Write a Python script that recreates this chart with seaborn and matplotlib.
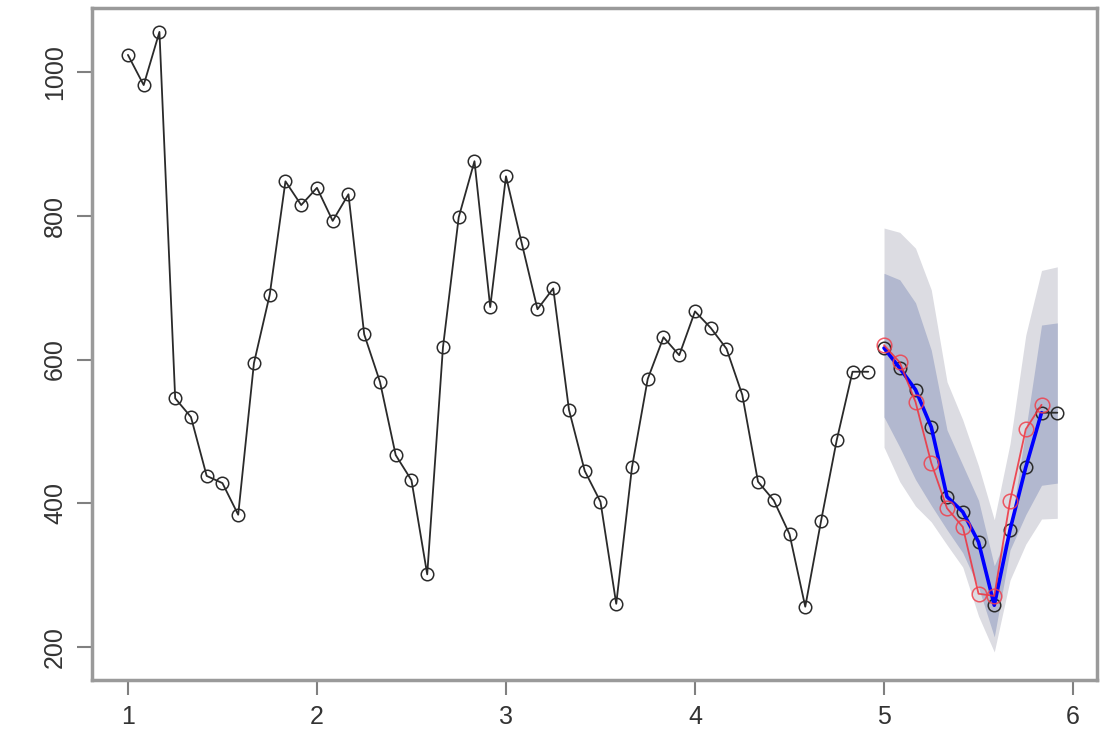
import numpy as np
import pandas as pd
import matplotlib.pyplot as plt
import seaborn as sns

# monthly series, starts at time 1, frequency 12
start = 1
freq = 12

hist_values = [1024, 982, 1056, 546, 520, 438, 428, 384, 595, 690, 848, 815,
               839, 793, 830, 635, 569, 467, 432, 301, 617, 798, 876, 673,
               855, 762, 670, 699, 530, 445, 402, 260, 450, 573, 631, 606,
               667, 644, 615, 551, 430, 404, 357, 256, 375, 488, 583, 583]

fc_mean = [616, 588, 558, 506, 409, 388, 346, 258, 363, 450, 526, 526]
fc_lo80 = [520, 478, 433, 397, 363, 331, 283, 214, 335, 384, 425, 428]
fc_hi80 = [720, 711, 679, 613, 502, 453, 404, 313, 363, 502, 648, 651]
fc_lo95 = [478, 430, 396, 374, 342, 311, 243, 193, 293, 343, 378, 379]
fc_hi95 = [783, 777, 755, 697, 569, 516, 452, 377, 483, 634, 724, 729]

test_values = [620, 596, 541, 456, 393, 367, 274, 271, 403, 503, 537]

x_ticks = [1, 2, 3, 4, 5, 6]
y_ticks = [200, 400, 600, 800, 1000]

hist = pd.DataFrame({
    "time": start + np.arange(len(hist_values)) / freq,
    "value": hist_values,
})
fc = pd.DataFrame({
    "time": start + (len(hist_values) + np.arange(len(fc_mean))) / freq,
    "mean": fc_mean,
    "lo80": fc_lo80,
    "hi80": fc_hi80,
    "lo95": fc_lo95,
    "hi95": fc_hi95,
})
test = pd.DataFrame({
    "time": fc["time"].iloc[:len(test_values)].values,
    "value": test_values,
})

sns.set_style("white")
plt.rcParams["font.family"] = ["Liberation Sans", "DejaVu Sans"]

fig = plt.figure(figsize=(11.02, 7.31), dpi=100)
ax = fig.add_axes([0.0835, 0.0698, 0.912, 0.919])

# prediction intervals
ax.fill_between(fc["time"], fc["lo95"], fc["hi95"], color="#DCDCE2", lw=0)
ax.fill_between(fc["time"], fc["lo80"], fc["hi80"], color="#B2B8CF", lw=0)

point_style = dict(marker="o", markerfacecolor="none", markeredgewidth=1.1)

sns.lineplot(data=hist, x="time", y="value", color="#2a2a2a", linewidth=1.3,
             markersize=9, markeredgecolor="#2a2a2a", ax=ax, **point_style)
sns.lineplot(data=fc, x="time", y="mean", color="#2a2a2a", linewidth=1.3,
             markersize=9, markeredgecolor="#2a2a2a", ax=ax, **point_style)
sns.lineplot(data=fc.iloc[:len(test_values)], x="time", y="mean",
             color="#0000FF", linewidth=2.6, ax=ax)
sns.lineplot(data=test, x="time", y="value", color="#F0303C", linewidth=1.3,
             markersize=10.5, markeredgecolor="#F0404C", alpha=0.85, ax=ax,
             **point_style)

ax.set_xlim(0.81, 6.127)
ax.set_ylim(154, 1089)
ax.set_xticks(x_ticks)
ax.set_yticks(y_ticks)
ax.set_xlabel("")
ax.set_ylabel("")

for side in ["left", "right", "top", "bottom"]:
    ax.spines[side].set_visible(True)
    ax.spines[side].set_color("#9a9a9a")
    ax.spines[side].set_linewidth(2.5)

# R style axis lines between the outer ticks
ax.plot([0.81, 0.81], [y_ticks[0], y_ticks[-1]], color="#6a6a6a", lw=2,
        clip_on=False)
ax.plot([x_ticks[0], x_ticks[-1]], [154, 154], color="#8a8a8a", lw=2,
        clip_on=False)

ax.tick_params(direction="out", length=11, width=1.5, color="#808080",
               labelsize=18, labelcolor="#333333", pad=7, left=True,
               bottom=True)
for lbl in ax.get_yticklabels():
    lbl.set_rotation(90)
    lbl.set_va("center")

fig.savefig("out.png", dpi=100)
